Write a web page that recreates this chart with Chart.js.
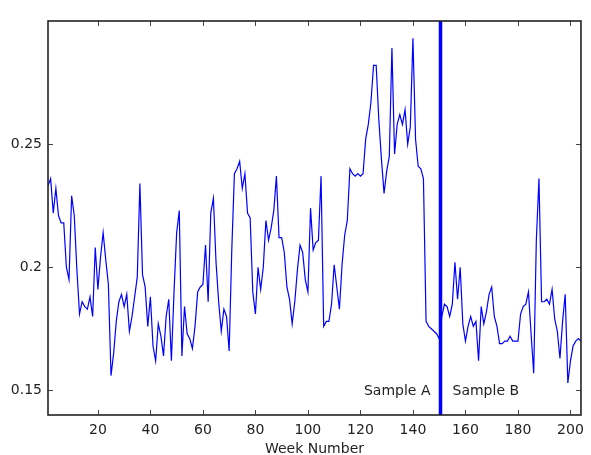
<!DOCTYPE html>
<html>
<head>
<meta charset="utf-8">
<script src="https://cdn.jsdelivr.net/npm/chart.js@4.4.1/dist/chart.umd.min.js"></script>
<style>
  html, body { margin: 0; padding: 0; background: #ffffff; }
  #wrap { width: 591px; height: 455px; }
</style>
</head>
<body>
<div id="wrap"><canvas id="c" width="591" height="455"></canvas></div>
<script>
// ---- data ----
const values = [
  0.233, 0.236, 0.222, 0.232, 0.221, 0.218, 0.218, 0.200, 0.195, 0.229,
  0.221, 0.199, 0.181, 0.186, 0.184, 0.183, 0.188, 0.180, 0.208, 0.191,
  0.204, 0.214, 0.203, 0.193, 0.156, 0.165, 0.178, 0.186, 0.189, 0.184,
  0.189, 0.174, 0.180, 0.188, 0.196, 0.234, 0.197, 0.192, 0.176, 0.188,
  0.168, 0.162, 0.177, 0.172, 0.164, 0.180, 0.187, 0.162, 0.190, 0.214,
  0.223, 0.164, 0.184, 0.173, 0.171, 0.167, 0.176, 0.190, 0.192, 0.193,
  0.209, 0.186, 0.222, 0.228, 0.202, 0.186, 0.174, 0.183, 0.180, 0.166,
  0.207, 0.238, 0.240, 0.243, 0.232, 0.238, 0.222, 0.220, 0.190, 0.181,
  0.200, 0.191, 0.200, 0.219, 0.211, 0.216, 0.223, 0.237, 0.212, 0.212,
  0.206, 0.192, 0.187, 0.177, 0.186, 0.199, 0.209, 0.206, 0.195, 0.190,
  0.224, 0.207, 0.210, 0.211, 0.237, 0.176, 0.178, 0.178, 0.185, 0.201,
  0.192, 0.183, 0.201, 0.213, 0.219, 0.240, 0.238, 0.237, 0.238, 0.237,
  0.238, 0.252, 0.258, 0.267, 0.282, 0.282, 0.260, 0.244, 0.230, 0.239,
  0.245, 0.289, 0.246, 0.258, 0.262, 0.258, 0.264, 0.250, 0.257, 0.293,
  0.252, 0.241, 0.240, 0.236, 0.178, 0.176, 0.175, 0.174, 0.173, 0.171,
  0.180, 0.185, 0.184, 0.180, 0.185, 0.202, 0.187, 0.200, 0.177, 0.170,
  0.176, 0.180, 0.176, 0.178, 0.162, 0.184, 0.177, 0.182, 0.189, 0.192,
  0.180, 0.176, 0.169, 0.169, 0.170, 0.170, 0.172, 0.170, 0.170, 0.170,
  0.181, 0.184, 0.185, 0.190, 0.173, 0.157, 0.211, 0.236, 0.186, 0.186,
  0.187, 0.185, 0.191, 0.179, 0.174, 0.163, 0.178, 0.189, 0.153, 0.162,
  0.168, 0.170, 0.171, 0.170
];
const firstWeek = 1;
const weeks = values.map((_, i) => firstWeek + i);
const xTicks = [20, 40, 60, 80, 100, 120, 140, 160, 180, 200];
const yTicks = [0.15, 0.2, 0.25];
const yTickLabels = ["0.15", "0.2", "0.25"];
const xRange = [1, 204];
const yRange = [0.14, 0.30];
const splitWeek = 150.5;
const leftLabel = "Sample A";
const rightLabel = "Sample B";
const xTitle = "Week Number";

const FONT = "'DejaVu Sans', 'Liberation Sans', Arial, sans-serif";

const framePlugin = {
  id: 'frame',
  afterDatasetsDraw(chart) {
    const { ctx, chartArea: a, scales } = chart;
    const xs = scales.x, ys = scales.y;
    ctx.save();
    // split line
    const sx = xs.getPixelForValue(splitWeek);
    ctx.strokeStyle = '#0000ff';
    ctx.lineWidth = 3.5;
    ctx.beginPath();
    ctx.moveTo(sx, a.top);
    ctx.lineTo(sx, a.bottom);
    ctx.stroke();
    // labels
    ctx.fillStyle = '#222';
    ctx.font = '14px ' + FONT;
    ctx.textBaseline = 'middle';
    const ty = a.bottom - 24;
    ctx.textAlign = 'right';
    ctx.fillText(leftLabel, sx - 10, ty);
    ctx.textAlign = 'left';
    ctx.fillText(rightLabel, sx + 12, ty);
    // inward ticks
    ctx.strokeStyle = '#444';
    ctx.lineWidth = 1;
    ctx.beginPath();
    xTicks.forEach(v => {
      const px = Math.round(xs.getPixelForValue(v)) + 0.5;
      ctx.moveTo(px, a.bottom); ctx.lineTo(px, a.bottom - 5);
      ctx.moveTo(px, a.top); ctx.lineTo(px, a.top + 5);
    });
    yTicks.forEach(v => {
      const py = Math.round(ys.getPixelForValue(v)) + 0.5;
      ctx.moveTo(a.left, py); ctx.lineTo(a.left + 5, py);
      ctx.moveTo(a.right, py); ctx.lineTo(a.right - 5, py);
    });
    ctx.stroke();
    // frame
    ctx.strokeStyle = '#222';
    ctx.lineWidth = 1.6;
    ctx.strokeRect(a.left, a.top, a.right - a.left, a.bottom - a.top);
    ctx.restore();
  }
};

new Chart(document.getElementById('c'), {
  type: 'line',
  data: {
    datasets: [{
      data: weeks.map((w, i) => ({ x: w, y: values[i] })),
      borderColor: '#0000ff',
      borderWidth: 1.2,
      pointRadius: 0,
      tension: 0,
      fill: false
    }]
  },
  options: {
    responsive: false,
    animation: false,
    devicePixelRatio: 1,
    layout: { padding: { top: 21, right: 9, left: 0, bottom: 0 } },
    plugins: { legend: { display: false }, tooltip: { enabled: false } },
    scales: {
      x: {
        type: 'linear',
        min: xRange[0], max: xRange[1],
        afterBuildTicks: s => { s.ticks = xTicks.map(v => ({ value: v })); },
        afterFit: s => { s.height = 40; },
        grid: { display: false, drawTicks: false },
        border: { display: false },
        ticks: {
          color: '#222', padding: 7, maxRotation: 0, autoSkip: false,
          font: { family: FONT, size: 14 },
          callback: v => String(v)
        },
        title: {
          display: true, text: xTitle, color: '#222',
          font: { family: FONT, size: 14 },
          padding: { top: 6, bottom: -3 }
        }
      },
      y: {
        type: 'linear',
        min: yRange[0], max: yRange[1],
        afterBuildTicks: s => { s.ticks = yTicks.map(v => ({ value: v })); },
        afterFit: s => { s.width = 48; },
        grid: { display: false, drawTicks: false },
        border: { display: false },
        ticks: {
          color: '#222', padding: 6,
          font: { family: FONT, size: 14 },
          callback: v => { const i = yTicks.indexOf(v); return i >= 0 ? yTickLabels[i] : ''; }
        }
      }
    }
  },
  plugins: [framePlugin]
});
</script>
</body>
</html>
